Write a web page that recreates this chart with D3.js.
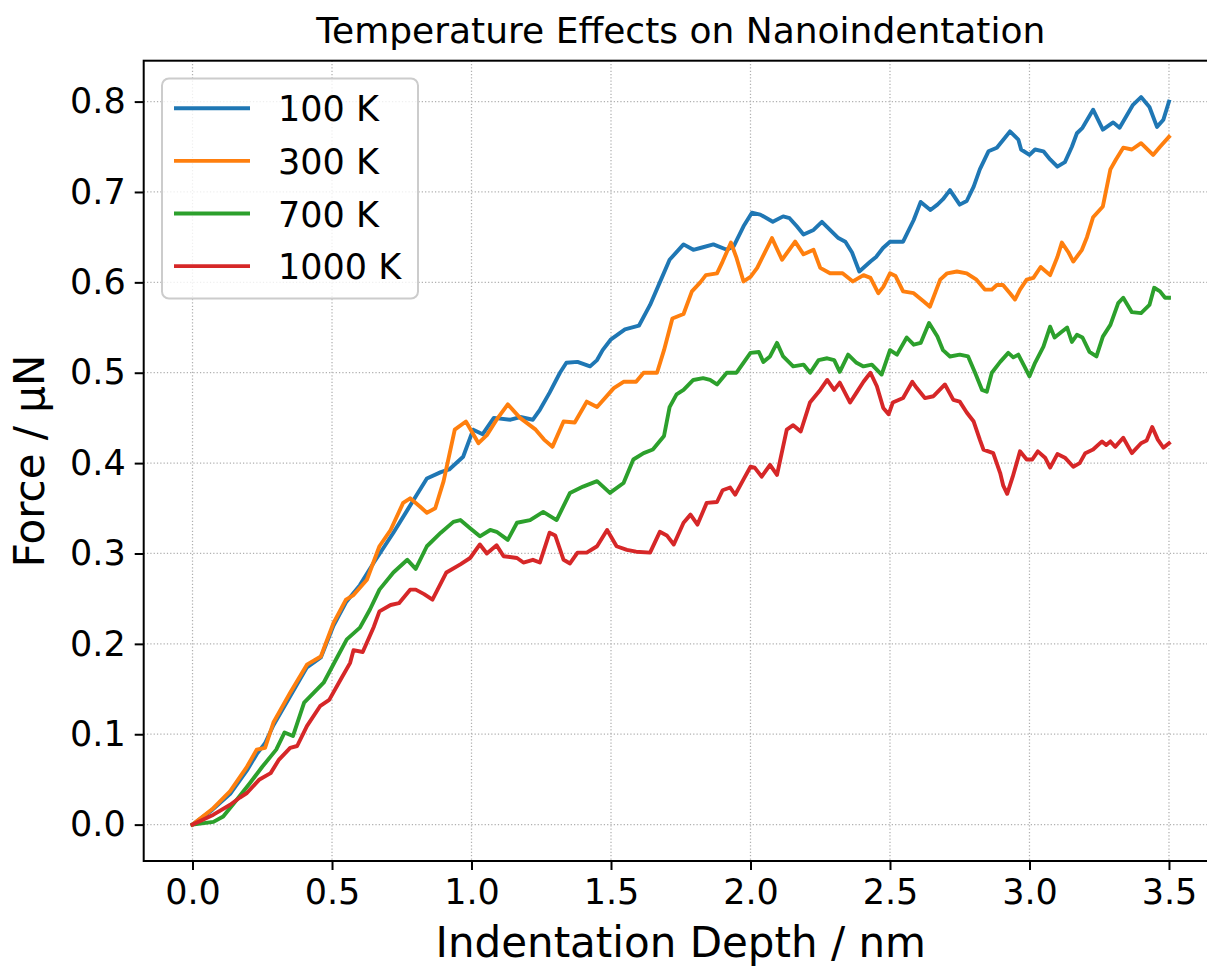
<!DOCTYPE html>
<html lang="en">
<head>
  <meta charset="UTF-8">
  <title>Temperature Effects on Nanoindentation</title>
  <script src="https://d3js.org/d3.v7.min.js"></script>
  <style>
    body { margin: 0; background: #fff; }
    svg { display: block; font-family: 'DejaVu Sans', sans-serif; }
    .grid line { stroke: #b0b0b0; stroke-width: 1.25; stroke-dasharray: 1.25 2.06; }
    .axis text { font-size: 35px; fill: #000; }
    .axis line { stroke: #000; stroke-width: 2; }
    .series { fill: none; stroke-width: 3.9; stroke-linejoin: round; stroke-linecap: square; }
  </style>
</head>
<body>
<div id="chart"></div>
<script>
  // values: [depth nm, force µN]
  const series100 = [[0,0],[0.07,0.016],[0.135,0.034],[0.195,0.06],[0.23,0.078],[0.26,0.09],[0.29,0.11],[0.35,0.142],[0.41,0.174],[0.46,0.185],[0.505,0.22],[0.55,0.246],[0.6,0.265],[0.65,0.29],[0.72,0.323],[0.77,0.348],[0.84,0.383],[0.89,0.39],[0.92,0.393],[0.97,0.407],[1.006,0.437],[1.04,0.432],[1.08,0.45],[1.14,0.448],[1.175,0.451],[1.22,0.448],[1.245,0.459],[1.28,0.478],[1.317,0.5],[1.34,0.511],[1.38,0.512],[1.425,0.507],[1.45,0.514],[1.47,0.525],[1.5,0.537],[1.55,0.548],[1.6,0.552],[1.64,0.575],[1.675,0.6],[1.71,0.625],[1.76,0.642],[1.795,0.636],[1.82,0.638],[1.867,0.642],[1.915,0.636],[1.94,0.64],[1.975,0.662],[2.005,0.677],[2.035,0.675],[2.08,0.667],[2.117,0.673],[2.14,0.671],[2.166,0.662],[2.19,0.653],[2.226,0.658],[2.256,0.667],[2.285,0.658],[2.315,0.649],[2.34,0.645],[2.364,0.633],[2.39,0.612],[2.43,0.623],[2.45,0.628],[2.475,0.638],[2.5,0.645],[2.547,0.645],[2.585,0.669],[2.61,0.689],[2.645,0.68],[2.67,0.686],[2.69,0.692],[2.715,0.702],[2.75,0.686],[2.775,0.69],[2.8,0.706],[2.822,0.725],[2.853,0.745],[2.883,0.749],[2.912,0.76],[2.93,0.767],[2.96,0.758],[2.97,0.747],[3.0,0.741],[3.02,0.747],[3.05,0.745],[3.074,0.736],[3.1,0.728],[3.127,0.733],[3.152,0.75],[3.17,0.765],[3.19,0.771],[3.228,0.791],[3.263,0.769],[3.3,0.777],[3.323,0.771],[3.37,0.796],[3.4,0.805],[3.43,0.794],[3.457,0.772],[3.48,0.78],[3.5,0.8]];

  const series300 = [[0,0],[0.07,0.017],[0.135,0.037],[0.195,0.064],[0.23,0.083],[0.26,0.085],[0.29,0.113],[0.35,0.146],[0.41,0.177],[0.46,0.186],[0.505,0.223],[0.55,0.249],[0.577,0.254],[0.625,0.271],[0.67,0.308],[0.71,0.326],[0.755,0.356],[0.78,0.361],[0.815,0.352],[0.84,0.345],[0.87,0.35],[0.9,0.38],[0.94,0.437],[0.98,0.446],[1.025,0.422],[1.055,0.431],[1.09,0.448],[1.13,0.465],[1.174,0.45],[1.23,0.437],[1.26,0.426],[1.29,0.418],[1.33,0.446],[1.37,0.445],[1.413,0.468],[1.45,0.462],[1.51,0.483],[1.545,0.49],[1.59,0.49],[1.617,0.5],[1.665,0.5],[1.69,0.525],[1.72,0.56],[1.76,0.565],[1.79,0.59],[1.82,0.6],[1.84,0.608],[1.88,0.61],[1.9,0.623],[1.93,0.644],[1.95,0.627],[1.975,0.601],[2.0,0.606],[2.024,0.616],[2.077,0.649],[2.113,0.625],[2.16,0.645],[2.19,0.631],[2.226,0.636],[2.25,0.616],[2.285,0.61],[2.33,0.61],[2.367,0.601],[2.405,0.608],[2.43,0.605],[2.458,0.588],[2.476,0.595],[2.5,0.61],[2.52,0.607],[2.547,0.59],[2.585,0.588],[2.62,0.579],[2.643,0.573],[2.68,0.603],[2.705,0.61],[2.74,0.612],[2.775,0.61],[2.81,0.603],[2.84,0.592],[2.865,0.592],[2.883,0.597],[2.905,0.597],[2.93,0.588],[2.948,0.581],[2.966,0.592],[2.99,0.603],[3.014,0.605],[3.04,0.617],[3.074,0.608],[3.1,0.628],[3.116,0.644],[3.14,0.633],[3.157,0.623],[3.188,0.636],[3.206,0.65],[3.228,0.672],[3.263,0.684],[3.29,0.725],[3.31,0.736],[3.336,0.749],[3.367,0.747],[3.4,0.754],[3.443,0.741],[3.468,0.75],[3.5,0.761]];

  const series700 = [[0,0],[0.075,0.003],[0.11,0.009],[0.16,0.028],[0.206,0.046],[0.25,0.064],[0.3,0.083],[0.33,0.102],[0.36,0.098],[0.4,0.135],[0.435,0.146],[0.47,0.157],[0.52,0.186],[0.553,0.205],[0.6,0.218],[0.636,0.238],[0.67,0.26],[0.72,0.279],[0.77,0.293],[0.8,0.283],[0.84,0.308],[0.89,0.323],[0.935,0.335],[0.96,0.337],[0.995,0.328],[1.03,0.319],[1.067,0.326],[1.09,0.324],[1.13,0.315],[1.163,0.334],[1.21,0.337],[1.257,0.346],[1.305,0.337],[1.353,0.367],[1.4,0.374],[1.45,0.38],[1.496,0.367],[1.545,0.378],[1.58,0.404],[1.617,0.411],[1.65,0.415],[1.69,0.43],[1.71,0.462],[1.735,0.476],[1.76,0.481],[1.795,0.492],[1.83,0.494],[1.855,0.492],[1.88,0.487],[1.915,0.5],[1.95,0.5],[2.0,0.522],[2.03,0.523],[2.046,0.512],[2.07,0.518],[2.095,0.533],[2.117,0.518],[2.153,0.507],[2.19,0.509],[2.214,0.5],[2.244,0.514],[2.275,0.516],[2.3,0.514],[2.32,0.501],[2.35,0.52],[2.38,0.511],[2.405,0.507],[2.435,0.509],[2.47,0.498],[2.5,0.525],[2.525,0.52],[2.56,0.539],[2.585,0.531],[2.61,0.533],[2.64,0.555],[2.67,0.54],[2.69,0.525],[2.715,0.518],[2.75,0.52],[2.78,0.518],[2.805,0.5],[2.83,0.481],[2.847,0.479],[2.865,0.5],[2.895,0.512],[2.924,0.522],[2.942,0.517],[2.96,0.52],[2.985,0.505],[3.0,0.496],[3.02,0.511],[3.05,0.529],[3.074,0.551],[3.09,0.539],[3.11,0.544],[3.135,0.55],[3.152,0.534],[3.17,0.542],[3.19,0.539],[3.215,0.523],[3.24,0.518],[3.263,0.54],[3.29,0.553],[3.318,0.577],[3.336,0.583],[3.367,0.567],[3.4,0.566],[3.43,0.575],[3.447,0.594],[3.468,0.59],[3.486,0.583],[3.5,0.583]];

  const series1000 = [[0,0],[0.075,0.011],[0.135,0.022],[0.17,0.03],[0.195,0.035],[0.24,0.05],[0.28,0.057],[0.31,0.072],[0.35,0.085],[0.375,0.087],[0.41,0.109],[0.457,0.131],[0.49,0.138],[0.53,0.16],[0.565,0.179],[0.577,0.193],[0.61,0.191],[0.65,0.219],[0.67,0.236],[0.71,0.243],[0.74,0.245],[0.78,0.26],[0.8,0.26],[0.83,0.255],[0.86,0.249],[0.91,0.279],[0.96,0.288],[0.995,0.295],[1.03,0.31],[1.055,0.3],[1.09,0.309],[1.115,0.297],[1.163,0.295],[1.186,0.29],[1.22,0.293],[1.245,0.29],[1.28,0.323],[1.3,0.32],[1.33,0.293],[1.353,0.289],[1.38,0.301],[1.413,0.301],[1.45,0.308],[1.486,0.326],[1.52,0.308],[1.557,0.304],[1.59,0.302],[1.64,0.301],[1.675,0.324],[1.7,0.32],[1.725,0.31],[1.76,0.334],[1.785,0.343],[1.81,0.332],[1.843,0.356],[1.88,0.357],[1.9,0.37],[1.927,0.373],[1.945,0.365],[1.975,0.382],[2.0,0.396],[2.015,0.395],[2.04,0.385],[2.07,0.398],[2.095,0.387],[2.13,0.437],[2.153,0.442],[2.18,0.435],[2.213,0.467],[2.25,0.481],[2.275,0.492],[2.3,0.481],[2.32,0.489],[2.357,0.467],[2.38,0.478],[2.405,0.49],[2.43,0.5],[2.453,0.485],[2.476,0.461],[2.495,0.454],[2.51,0.467],[2.547,0.472],[2.58,0.49],[2.596,0.483],[2.625,0.472],[2.656,0.474],[2.697,0.487],[2.727,0.47],[2.75,0.468],[2.775,0.456],[2.8,0.446],[2.822,0.426],[2.835,0.415],[2.87,0.411],[2.895,0.389],[2.906,0.375],[2.92,0.366],[2.94,0.385],[2.966,0.413],[2.99,0.404],[3.01,0.404],[3.03,0.413],[3.056,0.406],[3.074,0.395],[3.1,0.41],[3.127,0.406],[3.157,0.396],[3.18,0.4],[3.2,0.411],[3.228,0.415],[3.26,0.424],[3.275,0.42],[3.29,0.424],[3.307,0.418],[3.336,0.428],[3.367,0.411],[3.4,0.422],[3.42,0.425],[3.44,0.44],[3.46,0.426],[3.48,0.417],[3.5,0.422]];

  const labels = ["100 K", "300 K", "700 K", "1000 K"];
  const colors = ["#1f77b4", "#ff7f0e", "#2ca02c", "#d62728"];
  const xTicks = [0, 0.5, 1, 1.5, 2, 2.5, 3, 3.5];
  const yTicks = [0, 0.1, 0.2, 0.3, 0.4, 0.5, 0.6, 0.7, 0.8];

  const allSeries = [series100, series300, series700, series1000];

  const W = 1207, H = 968;
  const plot = { left: 143.7, right: 1217.8, top: 60.7, bottom: 861 };

  const svg = d3.select("#chart").append("svg")
    .attr("width", W)
    .attr("height", H);

  svg.append("rect").attr("width", W).attr("height", H).attr("fill", "#fff");

  const x = d3.scaleLinear().domain([-0.175, 3.675]).range([plot.left, plot.right]);
  const y = d3.scaleLinear().domain([-0.04025, 0.84525]).range([plot.bottom, plot.top]);

  // grid
  const grid = svg.append("g").attr("class", "grid");
  grid.selectAll(".gx").data(xTicks).join("line")
    .attr("x1", d => x(d)).attr("x2", d => x(d))
    .attr("y1", plot.top).attr("y2", plot.bottom);
  grid.selectAll(".gy").data(yTicks).join("line")
    .attr("y1", d => y(d)).attr("y2", d => y(d))
    .attr("x1", plot.left).attr("x2", plot.right);

  // lines
  const line = d3.line().x(d => x(d[0])).y(d => y(d[1]));
  svg.append("g").selectAll("path").data(allSeries).join("path")
    .attr("class", "series")
    .attr("stroke", (d, i) => colors[i])
    .attr("d", line);

  // axes
  const xAxis = svg.append("g")
    .attr("class", "axis")
    .attr("transform", `translate(0,${plot.bottom})`)
    .call(d3.axisBottom(x).tickValues(xTicks).tickFormat(d3.format(".1f")).tickSize(9).tickPadding(9));
  const yAxis = svg.append("g")
    .attr("class", "axis")
    .attr("transform", `translate(${plot.left},0)`)
    .call(d3.axisLeft(y).tickValues(yTicks).tickFormat(d3.format(".1f")).tickSize(9).tickPadding(9));
  [xAxis, yAxis].forEach(a => {
    a.select(".domain").remove();
    a.attr("font-family", null).attr("font-size", null);
  });

  // spines
  svg.append("rect")
    .attr("x", plot.left).attr("y", plot.top)
    .attr("width", plot.right - plot.left).attr("height", plot.bottom - plot.top)
    .attr("fill", "none").attr("stroke", "#000").attr("stroke-width", 2);

  // legend
  const legend = svg.append("g");
  legend.append("rect")
    .attr("x", 162).attr("y", 78.5)
    .attr("width", 256).attr("height", 220)
    .attr("rx", 7).attr("ry", 7)
    .attr("fill", "#fff").attr("fill-opacity", 0.8)
    .attr("stroke", "#cccccc").attr("stroke-width", 2);
  labels.forEach((lab, i) => {
    const ly = 108.3 + i * 52.6;
    legend.append("line")
      .attr("x1", 174).attr("x2", 250).attr("y1", ly).attr("y2", ly)
      .attr("stroke", colors[i]).attr("stroke-width", 3.9);
    legend.append("text")
      .attr("x", 278).attr("y", ly + 13)
      .attr("font-size", 35).text(lab);
  });

  // title and labels
  svg.append("text")
    .attr("x", (plot.left + plot.right) / 2).attr("y", 43)
    .attr("text-anchor", "middle").attr("font-size", 36)
    .text("Temperature Effects on Nanoindentation");
  svg.append("text")
    .attr("x", (plot.left + plot.right) / 2).attr("y", 957)
    .attr("text-anchor", "middle").attr("font-size", 42)
    .text("Indentation Depth / nm");
  svg.append("text")
    .attr("transform", `translate(44,${(plot.top + plot.bottom) / 2}) rotate(-90)`)
    .attr("text-anchor", "middle").attr("font-size", 42)
    .text("Force / μN");
</script>
</body>
</html>
